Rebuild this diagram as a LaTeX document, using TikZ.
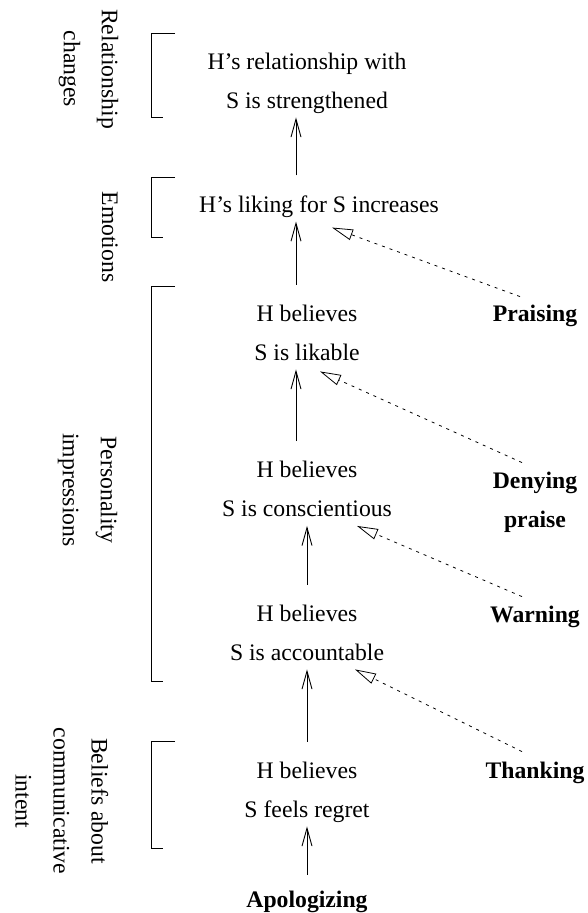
\documentclass[tikz,border=0pt]{standalone}
\usepackage{fontspec}
\setmainfont{Liberation Serif}
\usetikzlibrary{arrows.meta}

\begin{document}
\begin{tikzpicture}[x=1pt,y=-1pt,
        belief/.style={align=center,inner sep=0pt,text depth=0pt,font=\fontsize{23.7}{39}\selectfont},
        act/.style={belief,font=\fontsize{23.7}{39}\selectfont\bfseries},
        level/.style={align=center,inner sep=0pt,text depth=0pt,rotate=-90,font=\fontsize{23.7}{38}\selectfont},
        leads/.style={line width=0.9pt,-{Straight Barb[length=18pt,width=10pt]},shorten <=20pt,shorten >=9pt},
        hint/.style={line width=0.8pt,dash pattern=on 3pt off 5pt,-{Triangle[open,length=21pt,width=11pt]}},
        bracket/.style={line width=1pt}]
    \useasboundingbox (0,0) rectangle (587,913);
    % chain of beliefs
    \node[belief] (rel) at (307,80.5) {H's relationship with\\S is strengthened};
    \node[belief] (liking) at (319,204) {H's liking for S increases};
    \node[belief] (likable) at (307,332.5) {H believes\\S is likable};
    \node[belief] (consc) at (307,489) {H believes\\S is conscientious};
    \node[belief] (acc) at (307,632.5) {H believes\\S is accountable};
    \node[belief] (regret) at (307,789.5) {H believes\\S feels regret};
    \node[act] (apol) at (307,899) {Apologizing};
    % speech acts
    \node[act] (praising) at (535,313) {Praising};
    \node[act] (denying) at (535,499.5) {Denying\\praise};
    \node[act] (warning) at (535,614) {Warning};
    \node[act] (thanking) at (535,770) {Thanking};
    % levels
    \node[level] (relchg) at (91,69) {Relationship\\changes};
    \node[level] (emo) at (110,237) {Emotions};
    \node[level] (persimp) at (90,490) {Personality\\impressions};
    \node[level] (beliefs) at (62,801) {Beliefs about\\communicative\\intent};
    \draw[bracket] (175,33) -- (151,33) -- (151,117) -- (163,117);
    \draw[bracket] (175,177) -- (151,177) -- (151,237) -- (163,237);
    \draw[bracket] (175,286) -- (151,286) -- (151,681) -- (163,681);
    \draw[bracket] (175,741) -- (151,741) -- (151,848) -- (163,848);
    % arrows
    \coordinate (spine) at (296,0);
    \draw[leads] (liking.north -| spine) -- (rel.south -| spine);
    \draw[leads] (likable.north -| spine) -- (liking.south -| spine);
    \draw[leads] (consc.north -| spine) -- (likable.south -| spine);
    \draw[leads] (acc.north) -- (consc.south);
    \draw[leads] (regret.north) -- (acc.south);
    \draw[leads,shorten <=16pt] (apol.north) -- (regret.south);
    \draw[hint] ([xshift=-15pt,yshift=8pt]praising.north) -- ([xshift=13pt,yshift=-15pt]liking.south);
    \draw[hint] ([xshift=-13pt,yshift=9pt]denying.north) -- ([xshift=13pt,yshift=-11pt]likable.south);
    \draw[hint] ([xshift=-13pt,yshift=9pt]warning.north) -- ([xshift=50pt,yshift=-9pt]consc.south);
    \draw[hint] ([xshift=-13pt,yshift=10pt]thanking.north) -- ([xshift=48pt,yshift=-9pt]acc.south);
\end{tikzpicture}
\end{document}
